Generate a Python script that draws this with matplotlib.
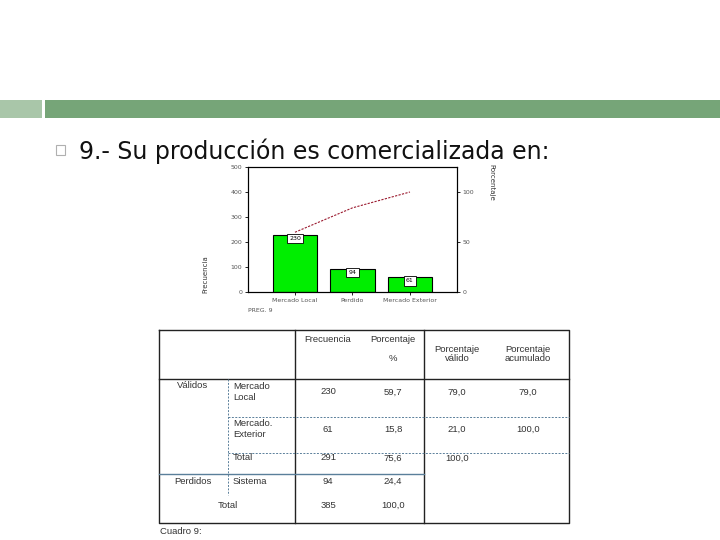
import matplotlib
matplotlib.use("Agg")
import matplotlib.pyplot as plt
from matplotlib.patches import Rectangle

# ---- data ----
categories = ["Mercado Local", "Perdido", "Mercado Exterior"]
frequencies = [230, 94, 61]
left_ticks = [0, 100, 200, 300, 400, 500]
right_ticks = [0, 50, 100]

header_cols = ["Frecuencia", "Porcentaje\n\n%", "Porcentaje\nválido", "Porcentaje\nacumulado"]
row_groups = ["Válidos", "Perdidos"]
row_labels = ["Mercado\nLocal", "Mercado.\nExterior", "Total", "Sistema", "Total"]
col_freq = ["230", "61", "291", "94", "385"]
col_pct = ["59,7", "15,8", "75,6", "24,4", "100,0"]
col_valid = ["79,0", "21,0", "100,0", "", ""]
col_cum = ["79,0", "100,0", "", "", ""]

W, H = 720, 540
fig = plt.figure(figsize=(7.2, 5.4), dpi=100)
fig.patch.set_facecolor("white")

# background overlay in pixel coords
bg = fig.add_axes([0, 0, 1, 1])
bg.set_xlim(0, W)
bg.set_ylim(H, 0)
bg.axis("off")

bg.add_patch(Rectangle((0, 100), 42, 18, color="#a9c6a9", lw=0))
bg.add_patch(Rectangle((45, 100), 675, 18, color="#76a578", lw=0))
bg.add_patch(Rectangle((56, 145), 9, 10, fill=False, ec="#b0b0b0", lw=0.8))
bg.text(79, 151, "9.- Su producción es comercializada en:", fontsize=17,
        family="DejaVu Sans", va="center", ha="left", color="#111111")

# ---- chart ----
def fx(px):
    return px / W

def fy(py):
    return 1 - py / H

ax = fig.add_axes([fx(248), fy(292), fx(457) - fx(248), fy(167) - fy(292)])
x = list(range(len(categories)))
ax.bar(x, frequencies, width=0.77, color="#00ee00", edgecolor="black", linewidth=0.8)
ax.set_xlim(-0.817, 2.818)
ax.set_ylim(0, 500)
ax.set_yticks(left_ticks)
ax.set_yticklabels([str(t) for t in left_ticks], fontsize=4.5, color="#555555")
ax.set_xticks(x)
ax.set_xticklabels(categories, fontsize=4.5, color="#555555")
ax.tick_params(length=2, width=0.6, pad=2)
for s in ax.spines.values():
    s.set_linewidth(0.8)
ax.set_ylabel("Frecuencia", fontsize=5, color="#333333")
ax.yaxis.set_label_coords(-0.19, 0.14)

total = sum(frequencies)
cum = []
run = 0
for f in frequencies:
    run += f
    cum.append(run / total * 100)

ax2 = ax.twinx()
ax2.set_ylim(0, 125)
ax2.plot(x, cum, linestyle=(0, (2, 1.2)), color="#9b1b30", lw=0.8)
ax2.set_yticks(right_ticks)
ax2.set_yticklabels([str(t) for t in right_ticks], fontsize=4.5, color="#555555")
ax2.tick_params(length=2, width=0.6, pad=2)
ax2.set_ylabel("Porcentaje", fontsize=5, color="#333333", rotation=270)
ax2.yaxis.set_label_coords(1.18, 0.88)

for xi, f in zip(x, frequencies):
    ax.text(xi, f - 17, str(f), ha="center", va="center", fontsize=4.5,
            bbox=dict(boxstyle="square,pad=0.35", fc="white", ec="black", lw=0.6))

bg.text(248, 311, "PREG. 9", fontsize=4.5, color="#555555", va="center")

# ---- table ----
L, R = 159, 569
top, hb, d1, d2, sl, bot = 330, 379, 417, 453, 474, 523
lc = "#222222"
bg.plot([L, R, R, L, L], [top, top, bot, bot, top], color=lc, lw=1.0)
bg.plot([L, R], [hb, hb], color=lc, lw=1.0)
bg.plot([295, 295], [top, bot], color=lc, lw=1.0)
bg.plot([424, 424], [top, bot], color=lc, lw=1.0)
bg.plot([228, R], [d1, d1], color="#5a7f9a", lw=0.7, ls=(0, (2, 1.5)))
bg.plot([228, R], [d2, d2], color="#5a7f9a", lw=0.7, ls=(0, (2, 1.5)))
bg.plot([L, 424], [sl, sl], color="#5a7f9a", lw=1.0)
bg.plot([228, 228], [hb, 495], color="#5a7f9a", lw=0.7, ls=(0, (2, 1.5)))

tf = dict(fontsize=6.8, family="Liberation Sans", color="#333333")
hx = [328, 393, 457, 528]
hy = [339, 349, 354, 354]
for cx, cy, t in zip(hx, hy, header_cols):
    bg.text(cx, cy, t, ha="center", va="center", linespacing=1.1, **tf)

bg.text(193, 386, row_groups[0], ha="center", va="center", **tf)
bg.text(193, 482, row_groups[1], ha="center", va="center", **tf)

ry = [392, 429, 458, 481, 505]
for i, (lab, y) in enumerate(zip(row_labels, ry)):
    if i == 4:
        bg.text(228, y, lab, ha="center", va="center", **tf)
    else:
        bg.text(233, y, lab, ha="left", va="center", linespacing=1.3, **tf)
    for cx, col in zip(hx, [col_freq, col_pct, col_valid, col_cum]):
        if col[i]:
            bg.text(cx, y, col[i], ha="center", va="center", **tf)

bg.text(160, 531, "Cuadro 9:", ha="left", va="center", **tf)

fig.savefig("out.png", dpi=100)
